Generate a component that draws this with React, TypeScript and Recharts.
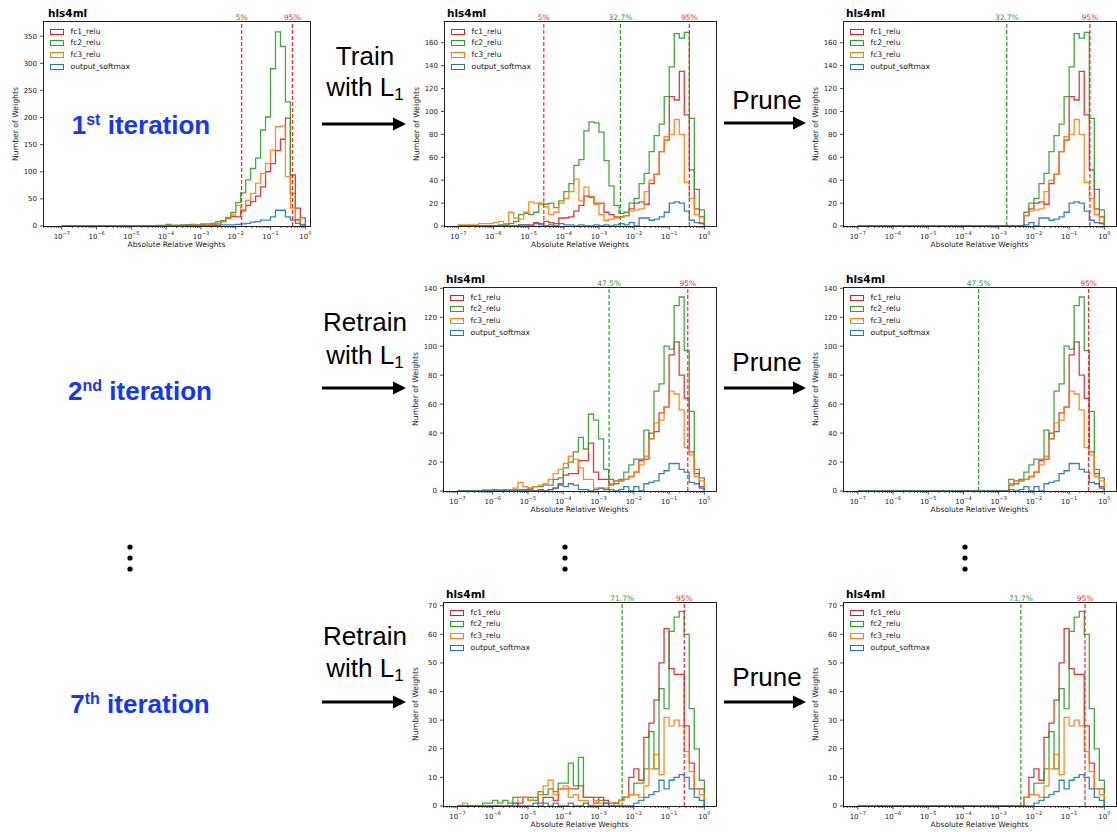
import React from "react";
import { LineChart, Line, XAxis, YAxis, ReferenceLine } from "recharts";

// log10 histogram bins: 7 per decade, 1e-7 .. 1e0
const BIN_START = -7;
const BINS_PER_DECADE = 7;
const N_BINS = 49;

// ---- 1st iteration ----
const it1Fc1 = [
  0, 0, 0, 0, 0, 0, 0,
  0, 0, 0, 0, 0, 0, 0,
  0, 0, 0, 0, 0, 0, 0,
  0, 0, 1, 1, 1, 2, 1,
  2, 2, 3, 4, 8, 14, 18,
  17, 28, 38, 45, 55, 72, 100,
  115, 139, 160, 199, 94, 33, 15,
];
const it1Fc2 = [
  0, 0, 0, 0, 0, 0, 0,
  0, 0, 0, 0, 0, 0, 0,
  0, 0, 0, 0, 0, 1, 1,
  3, 1, 1, 2, 2, 3, 2,
  4, 4, 5, 8, 10, 16, 25,
  43, 61, 85, 106, 125, 177, 201,
  290, 358, 331, 229, 60, 12, 2,
];
const it1Fc3 = [
  0, 0, 0, 0, 0, 0, 0,
  0, 0, 0, 0, 0, 0, 0,
  0, 0, 0, 0, 0, 0, 0,
  1, 1, 0, 1, 1, 2, 1,
  1, 2, 3, 5, 8, 15, 22,
  38, 30, 47, 60, 79, 97, 115,
  140, 183, 184, 91, 33, 10, 3,
];
const it1Out = [
  0, 0, 0, 0, 0, 0, 0,
  0, 0, 0, 0, 0, 0, 0,
  0, 0, 0, 0, 0, 0, 0,
  0, 0, 0, 0, 1, 0, 0,
  0, 0, 1, 1, 2, 2, 2,
  3, 4, 5, 7, 8, 11, 11,
  17, 29, 29, 17, 11, 5, 2,
];

// ---- after training with L1 ----
const trainFc1 = [
  0, 0, 0, 0, 0, 0, 0,
  0, 0, 0, 0, 0, 1, 1,
  1, 3, 2, 4, 3, 2, 7,
  7, 8, 13, 18, 26, 25, 20,
  20, 12, 10, 8, 8, 9, 15,
  20, 21, 19, 37, 45, 65, 75,
  113, 110, 135, 97, 49, 15, 8,
];
const trainFc2 = [
  0, 0, 0, 0, 0, 0, 0,
  0, 1, 1, 2, 4, 10, 11,
  10, 12, 20, 19, 20, 16, 22,
  30, 37, 53, 58, 83, 91, 90,
  82, 57, 35, 18, 11, 12, 20,
  24, 37, 46, 65, 79, 89, 113,
  139, 168, 164, 169, 94, 32, 14,
];
const trainFc3 = [
  1, 1, 1, 1, 2, 2, 2,
  3, 4, 2, 12, 7, 6, 12,
  21, 20, 19, 17, 10, 12, 20,
  24, 30, 41, 22, 34, 26, 19,
  10, 5, 6, 7, 8, 9, 13,
  14, 15, 30, 40, 45, 65, 78,
  80, 93, 80, 38, 24, 10, 3,
];
const trainOut = [
  0, 0, 0, 0, 0, 0, 0,
  0, 0, 0, 0, 0, 1, 1,
  0, 2, 1, 0, 1, 0, 2,
  1, 1, 0, 1, 0, 0, 1,
  0, 1, 0, 1, 2, 1, 3,
  0, 7, 7, 5, 6, 8, 12,
  20, 21, 20, 13, 5, 3, 2,
];

// ---- 2nd iteration, retrained ----
const re2Fc1 = [
  0, 0, 0, 0, 0, 0, 0,
  0, 0, 0, 0, 0, 0, 0,
  0, 0, 0, 0, 1, 2, 5,
  11, 12, 12, 21, 21, 33, 13,
  8, 8, 4, 7, 7, 8, 10,
  13, 21, 22, 40, 41, 54, 58,
  94, 103, 80, 64, 27, 12, 3,
];
const re2Fc2 = [
  0, 0, 0, 0, 0, 0, 0,
  1, 0, 1, 1, 1, 1, 1,
  2, 3, 3, 4, 4, 8, 9,
  16, 20, 27, 37, 29, 53, 49,
  36, 15, 8, 5, 8, 13, 18,
  22, 22, 42, 36, 69, 74, 100,
  98, 128, 134, 97, 55, 15, 9,
];
const re2Fc3 = [
  0, 0, 0, 0, 0, 1, 1,
  0, 1, 0, 1, 2, 6, 3,
  2, 3, 4, 5, 8, 12, 15,
  19, 24, 22, 16, 8, 8, 2,
  2, 2, 5, 7, 7, 8, 10,
  13, 18, 24, 36, 47, 49, 58,
  69, 67, 56, 30, 25, 10, 7,
];
const re2Out = [
  0, 0, 0, 0, 0, 0, 0,
  0, 0, 0, 0, 0, 0, 0,
  1, 0, 1, 0, 1, 2, 4,
  3, 5, 4, 1, 1, 0, 1,
  2, 1, 1, 0, 1, 3, 0,
  3, 0, 5, 6, 7, 12, 14,
  19, 19, 15, 13, 6, 5, 2,
];

// ---- 7th iteration, retrained ----
const re7Fc1 = [
  0, 0, 0, 0, 0, 0, 0,
  0, 0, 0, 0, 0, 1, 3,
  3, 3, 1, 3, 3, 2, 6,
  6, 6, 6, 7, 3, 3, 1,
  3, 2, 1, 1, 2, 3, 10,
  13, 9, 24, 29, 37, 50, 62,
  48, 46, 46, 28, 15, 6, 6,
];
const re7Fc2 = [
  0, 0, 0, 0, 0, 1, 1,
  2, 1, 2, 1, 3, 3, 3,
  2, 2, 5, 4, 6, 5, 8,
  8, 15, 7, 17, 3, 3, 3,
  2, 1, 0, 1, 2, 3, 4,
  8, 8, 13, 26, 13, 41, 34,
  61, 66, 68, 60, 34, 20, 9,
];
const re7Fc3 = [
  0, 1, 0, 0, 0, 0, 0,
  0, 0, 0, 1, 1, 3, 3,
  2, 3, 4, 7, 9, 4, 6,
  7, 3, 4, 2, 2, 0, 2,
  1, 0, 1, 0, 2, 3, 4,
  4, 3, 7, 13, 18, 11, 31,
  28, 30, 28, 19, 12, 6, 4,
];
const re7Out = [
  0, 0, 0, 0, 0, 0, 0,
  0, 0, 0, 0, 1, 0, 0,
  0, 1, 0, 1, 0, 1, 0,
  0, 1, 0, 0, 1, 0, 0,
  0, 1, 0, 0, 0, 0, 0,
  1, 2, 3, 4, 5, 9, 6,
  9, 10, 11, 10, 6, 3, 2,
];

const it1 = { fc1: it1Fc1, fc2: it1Fc2, fc3: it1Fc3, out: it1Out };
const trained = { fc1: trainFc1, fc2: trainFc2, fc3: trainFc3, out: trainOut };
const re2 = { fc1: re2Fc1, fc2: re2Fc2, fc3: re2Fc3, out: re2Out };
const re7 = { fc1: re7Fc1, fc2: re7Fc2, fc3: re7Fc3, out: re7Out };

const SERIES = [
  { key: "fc1", name: "fc1_relu", color: "#d62728" },
  { key: "fc2", name: "fc2_relu", color: "#2ca02c" },
  { key: "fc3", name: "fc3_relu", color: "#ff7f0e" },
  { key: "out", name: "output_softmax", color: "#1f77b4" },
];

const MAJOR_DECADES = [-7, -6, -5, -4, -3, -2, -1, 0];
const MINOR_MULT = [2, 3, 4, 5, 6, 7, 8, 9];

const RED = "#ee2a2a";
const GREEN = "#2c9a2c";
const BLUE_TXT = "#1338f4";
const CHART_FONT = "'DejaVu Sans', sans-serif";
const BIG_FONT = "'Liberation Sans', Arial, sans-serif";

type Hist = { fc1: number[]; fc2: number[]; fc3: number[]; out: number[] };
type Mark = { x: number; label: string; color: string };
type PanelCfg = {
  plot: [number, number, number, number];
  hist: Hist;
  start: number;
  xDomain: [number, number];
  yMax: number;
  yTicks: number[];
  marks: Mark[];
};

const ticks160 = [0, 20, 40, 60, 80, 100, 120, 140, 160];
const ticks140 = [0, 20, 40, 60, 80, 100, 120, 140];
const ticks70 = [0, 10, 20, 30, 40, 50, 60, 70];
const ticks350 = [0, 50, 100, 150, 200, 250, 300, 350];

const panels: PanelCfg[] = [
  { plot: [43, 21, 267, 205], hist: it1, start: 0, xDomain: [-7.54, 0.135], yMax: 378, yTicks: ticks350,
    marks: [{ x: -1.83, label: "5%", color: RED }, { x: -0.37, label: "95%", color: RED }] },
  { plot: [444, 21, 272, 205], hist: trained, start: 0, xDomain: [-7.41, 0.33], yMax: 179, yTicks: ticks160,
    marks: [{ x: -4.57, label: "5%", color: RED }, { x: -2.39, label: "32.7%", color: GREEN }, { x: -0.43, label: "95%", color: RED }] },
  { plot: [843, 21, 273, 205], hist: trained, start: 33, xDomain: [-7.42, 0.33], yMax: 179, yTicks: ticks160,
    marks: [{ x: -2.77, label: "32.7%", color: GREEN }, { x: -0.41, label: "95%", color: RED }] },
  { plot: [443, 287, 273, 204], hist: re2, start: 0, xDomain: [-7.41, 0.33], yMax: 140.9, yTicks: ticks140,
    marks: [{ x: -2.7, label: "47.5%", color: GREEN }, { x: -0.47, label: "95%", color: RED }] },
  { plot: [843, 287, 273, 204], hist: re2, start: 30, xDomain: [-7.42, 0.33], yMax: 140.9, yTicks: ticks140,
    marks: [{ x: -3.57, label: "47.5%", color: GREEN }, { x: -0.45, label: "95%", color: RED }] },
  { plot: [443, 602, 273, 204], hist: re7, start: 0, xDomain: [-7.41, 0.33], yMax: 71.3, yTicks: ticks70,
    marks: [{ x: -2.33, label: "71.7%", color: GREEN }, { x: -0.57, label: "95%", color: RED }] },
  { plot: [843, 602, 273, 204], hist: re7, start: 33, xDomain: [-7.42, 0.33], yMax: 71.3, yTicks: ticks70,
    marks: [{ x: -2.37, label: "71.7%", color: GREEN }, { x: -0.55, label: "95%", color: RED }] },
];

// step labels between the panels
const stepLabels = [
  { lines: ["Train", "with L"], x: 365, y: [65, 96] },
  { lines: ["Retrain", "with L"], x: 365, y: [331, 364] },
  { lines: ["Retrain", "with L"], x: 365, y: [645, 677] },
];
const pruneLabels = [{ x: 767, y: 109 }, { x: 767, y: 371 }, { x: 767, y: 686 }];
const iterLabels = [
  { num: "1", sup: "st", x: 141, y: 133.5 },
  { num: "2", sup: "nd", x: 140, y: 399.5 },
  { num: "7", sup: "th", x: 140, y: 712.5 },
];
const arrows = [
  [322, 406, 124], [724, 806, 123],
  [322, 406, 388], [724, 806, 388],
  [322, 406, 702], [724, 806, 702],
];
const dotColumns = [130, 565, 965];
const dotRows = [547, 558, 569];

const edges = Array.from({ length: N_BINS + 1 }, (_, j) => BIN_START + j / BINS_PER_DECADE);

function buildRows(h: Hist, start: number) {
  const zero = { fc1: 0, fc2: 0, fc3: 0, out: 0 };
  const rows: any[] = [{ x: edges[0], ...zero }];
  for (let j = 0; j < N_BINS; j++) {
    const keep = j >= start;
    rows.push({
      x: edges[j],
      fc1: keep ? h.fc1[j] : 0,
      fc2: keep ? h.fc2[j] : 0,
      fc3: keep ? h.fc3[j] : 0,
      out: keep ? h.out[j] : 0,
    });
  }
  rows.push({ x: edges[N_BINS], ...zero });
  return rows;
}

function xTicks(domain: [number, number]) {
  const t: number[] = [...MAJOR_DECADES];
  for (let d = -8; d < 0; d++) for (const m of MINOR_MULT) t.push(d + Math.log10(m));
  return t.filter((v) => v >= domain[0] && v <= domain[1]).sort((a, b) => a - b);
}

function LogTick(props: any) {
  const { x, y, payload } = props;
  const v = payload.value;
  const major = Math.abs(v - Math.round(v)) < 1e-9;
  return (
    <g>
      <line x1={x} x2={x} y1={y} y2={y + (major ? 3.5 : 2)} stroke="#222" strokeWidth={0.8} />
      {major && (
        <text x={x} y={y + 12.5} textAnchor="middle" fontSize={7} fill="#222">
          10
          <tspan dy={-3.5} fontSize={5}>
            {v === 0 ? "0" : "\u2212" + Math.abs(v)}
          </tspan>
        </text>
      )}
    </g>
  );
}

const ML = 42;
const MT = 20;
const XH = 21;
const MB = 4;
const MR = 8;

function Panel({ cfg }: { cfg: PanelCfg }) {
  const [pl, pt, pw, ph] = cfg.plot;
  const W = pw + ML + MR;
  const H = ph + MT + XH + MB;
  const data = buildRows(cfg.hist, cfg.start);
  return (
    <div style={{ position: "absolute", left: pl - ML, top: pt - MT, width: W, height: H, fontFamily: CHART_FONT }}>
      <LineChart width={W} height={H} data={data} margin={{ top: MT, right: MR, bottom: MB, left: 0 }}>
        <XAxis
          type="number"
          dataKey="x"
          domain={cfg.xDomain}
          allowDataOverflow
          ticks={xTicks(cfg.xDomain)}
          interval={0}
          tick={<LogTick />}
          tickLine={false}
          tickSize={0}
          tickMargin={0}
          axisLine={false}
          height={XH}
          label={{ value: "Absolute Relative Weights", position: "insideBottom", offset: 0, fontSize: 7.5, fill: "#222" }}
        />
        <YAxis
          type="number"
          domain={[0, cfg.yMax]}
          allowDataOverflow
          ticks={cfg.yTicks}
          interval={0}
          width={ML}
          tickSize={3}
          tickMargin={3}
          axisLine={false}
          tickLine={{ stroke: "#222", strokeWidth: 0.8 }}
          tick={{ fontSize: 7, fill: "#222" }}
        />
        {SERIES.map((s) => (
          <Line
            key={s.key}
            type="stepAfter"
            dataKey={s.key}
            stroke={s.color}
            strokeWidth={1.3}
            strokeOpacity={0.9}
            dot={false}
            activeDot={false}
            isAnimationActive={false}
          />
        ))}
        {cfg.marks.map((m) => (
          <ReferenceLine
            key={m.label}
            x={m.x}
            stroke={m.color}
            strokeDasharray="4 2"
            strokeWidth={1.2}
            label={{ value: m.label, position: "top", offset: 1.5, fontSize: 7.5, fill: m.color }}
          />
        ))}
      </LineChart>
      <div
        style={{
          position: "absolute", left: ML - 0.5, top: MT - 0.5, width: pw + 1, height: ph + 1,
          border: "1px solid #222", boxSizing: "border-box", pointerEvents: "none",
        }}
      />
      <div
        style={{
          position: "absolute", left: ML + (pl < 100 ? 5 : 3), top: 5.5, fontSize: 10.5, lineHeight: "12px",
          fontWeight: "bold", color: "#000", whiteSpace: "nowrap",
        }}
      >
        hls4ml
      </div>
      <div
        style={{
          position: "absolute", left: ML - 28.5, top: MT + ph / 2, fontSize: 7.7, color: "#222",
          whiteSpace: "nowrap", transform: "translate(-50%, -50%) rotate(-90deg)",
        }}
      >
        Number of Weights
      </div>
      {SERIES.map((s, i) => (
        <div
          key={s.key}
          style={{
            position: "absolute", left: ML + 7, top: MT + 5.7 + i * 11.7, height: 10,
            display: "flex", alignItems: "center", whiteSpace: "nowrap",
          }}
        >
          <span
            style={{
              display: "inline-block", flexShrink: 0, width: 14, height: 6,
              border: `1.3px solid ${s.color}`, boxSizing: "border-box", background: "transparent",
            }}
          />
          <span style={{ marginLeft: 6.5, fontSize: 7.6, lineHeight: "10px", color: "#222" }}>{s.name}</span>
        </div>
      ))}
    </div>
  );
}

function Annotations() {
  return (
    <svg width={1117} height={832} style={{ position: "absolute", left: 0, top: 0, pointerEvents: "none" }}>
      {stepLabels.map((s, i) => (
        <g key={i} fontFamily={BIG_FONT} fontSize={26} fill="#000">
          <text x={s.x} y={s.y[0]} textAnchor="middle">{s.lines[0]}</text>
          <text x={s.x} y={s.y[1]} textAnchor="middle">
            {s.lines[1]}
            <tspan fontSize={17} dy={4}>1</tspan>
          </text>
        </g>
      ))}
      {pruneLabels.map((p, i) => (
        <text key={i} x={p.x} y={p.y} textAnchor="middle" fontFamily={BIG_FONT} fontSize={26} fill="#000">
          Prune
        </text>
      ))}
      {iterLabels.map((l, i) => (
        <text key={i} x={l.x} y={l.y} textAnchor="middle" fontFamily={BIG_FONT} fontSize={26} fontWeight="bold" fill={BLUE_TXT}>
          {l.num}
          <tspan fontSize={16} dy={-9}>{l.sup}</tspan>
          <tspan dy={9}>{" iteration"}</tspan>
        </text>
      ))}
      {arrows.map(([x1, x2, y], i) => (
        <g key={i}>
          <line x1={x1} x2={x2 - 11} y1={y} y2={y} stroke="#000" strokeWidth={3} />
          <polygon points={`${x2},${y} ${x2 - 13},${y - 6.5} ${x2 - 13},${y + 6.5}`} fill="#000" />
        </g>
      ))}
      {dotColumns.map((cx) =>
        dotRows.map((cy) => <circle key={`${cx}-${cy}`} cx={cx} cy={cy} r={2.6} fill="#000" />)
      )}
    </svg>
  );
}

export default function App() {
  return (
    <div style={{ position: "absolute", left: 0, top: 0, width: 1117, height: 832, background: "#fff", overflow: "hidden" }}>
      {panels.map((cfg, i) => (
        <Panel key={i} cfg={cfg} />
      ))}
      <Annotations />
    </div>
  );
}
